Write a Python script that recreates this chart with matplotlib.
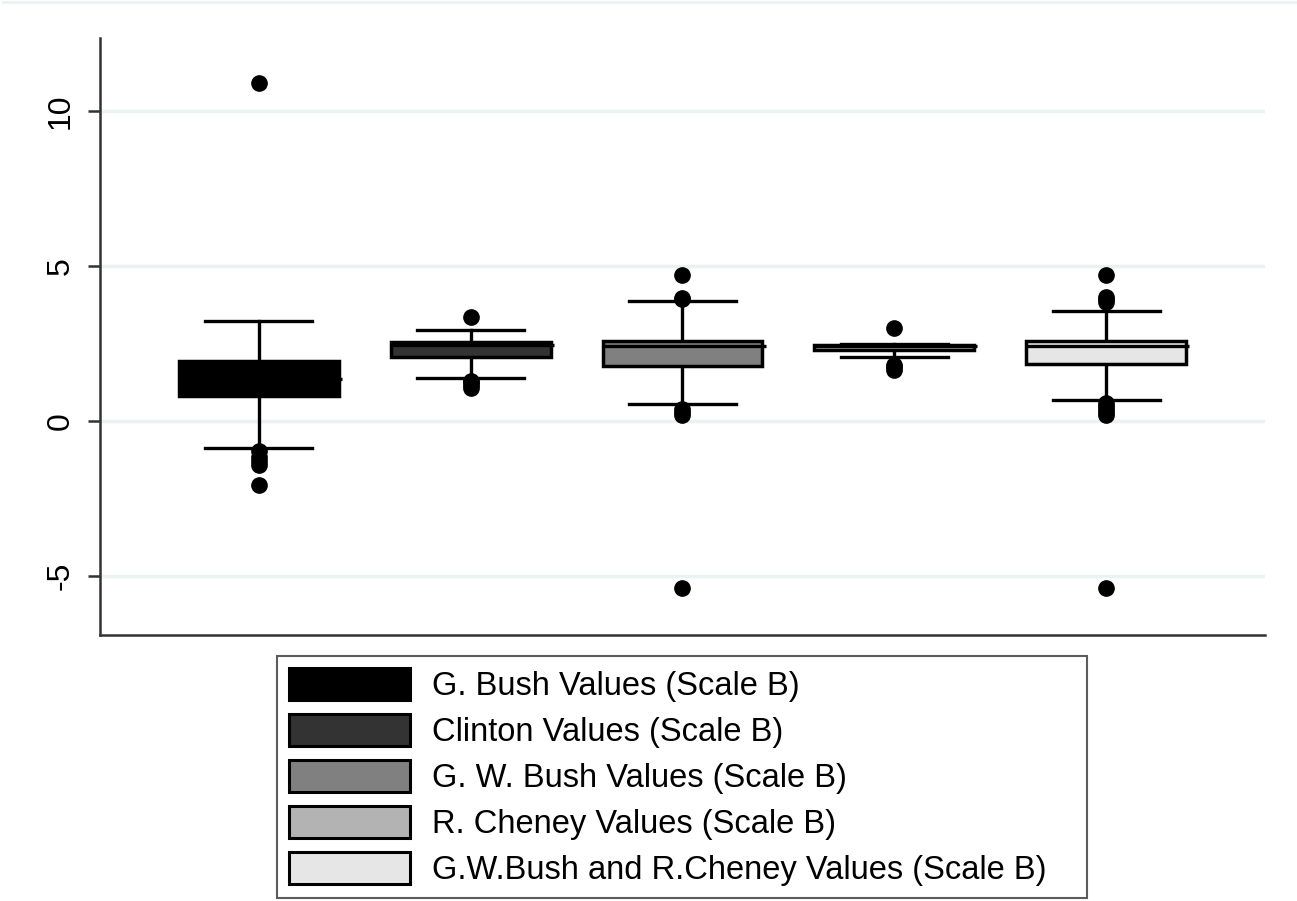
import matplotlib.pyplot as plt
from matplotlib.patches import Patch
from matplotlib.lines import Line2D

plt.rcParams['font.family'] = ['Liberation Sans', 'DejaVu Sans']

# box summaries per group (scale B)
groups = ['G. Bush Values (Scale B)', 'Clinton Values (Scale B)',
          'G. W. Bush Values (Scale B)', 'R. Cheney Values (Scale B)',
          'G.W.Bush and R.Cheney Values (Scale B)']
q1 = [0.80, 2.06, 1.78, 2.29, 1.84]
med = [1.36, 2.45, 2.42, 2.42, 2.42]
q3 = [1.94, 2.55, 2.58, 2.46, 2.58]
whislo = [-0.87, 1.39, 0.55, 2.06, 0.68]
whishi = [3.23, 2.94, 3.87, 2.50, 3.55]
outliers = [
    [10.9, -0.97, -1.15, -1.30, -1.42, -2.05],
    [3.35, 1.05, 1.15, 1.25, 1.30],
    [4.72, 3.92, 3.98, 0.20, 0.30, 0.40, -5.38],
    [3.00, 1.65, 1.75, 1.80],
    [4.72, 3.85, 3.95, 4.00, 0.20, 0.30, 0.40, 0.50, 0.58, -5.38],
]
fills = ['#000000', '#333333', '#808080', '#b3b3b3', '#e6e6e6']
yticks = [-5, 0, 5, 10]

stats = []
for i in range(len(groups)):
    stats.append({'med': med[i], 'q1': q1[i], 'q3': q3[i],
                  'whislo': whislo[i], 'whishi': whishi[i],
                  'fliers': outliers[i]})

fig = plt.figure(figsize=(12.97, 9.01), dpi=100)
ax = fig.add_axes([0.0771, 0.2952, 0.8982, 0.6626])

pos = list(range(1, len(groups) + 1))
bp = ax.bxp(stats, positions=pos, widths=0.755, capwidths=0.505,
            patch_artist=True, manage_ticks=False,
            boxprops=dict(edgecolor='black', linewidth=2.5),
            whiskerprops=dict(color='black', linewidth=2.4),
            capprops=dict(color='black', linewidth=2.4),
            medianprops=dict(color='black', linewidth=2.4),
            flierprops=dict(marker='o', markerfacecolor='black',
                            markeredgecolor='black', markersize=11))
for patch, c in zip(bp['boxes'], fills):
    patch.set_facecolor(c)
    patch.set_zorder(3)
for m in bp['medians']:
    x = m.get_xdata()
    m.set_xdata([x[0], x[1] + 0.015])
    m.set_zorder(4)

ax.set_xlim(0.25, 5.75)
ax.set_ylim(-6.9, 12.35)
ax.set_xticks([])
ax.set_yticks(yticks)
ax.set_yticklabels([str(t) for t in yticks], rotation=90, va='center',
                   fontsize=23)
ax.tick_params(axis='y', length=8.6, width=1.8, color='#333333', pad=9)
ax.grid(axis='y', color='#eaf2f3', linewidth=2.5, zorder=0)
ax.set_axisbelow(True)
for s in ['top', 'right']:
    ax.spines[s].set_visible(False)
for s in ['left', 'bottom']:
    ax.spines[s].set_color('#333333')
    ax.spines[s].set_linewidth(1.8)

fig.add_artist(Line2D([0.002, 1.0], [0.9975, 0.9975], color='#eaf2f3',
                      linewidth=2, transform=fig.transFigure))

handles = [Patch(facecolor=c, edgecolor='black', linewidth=2.2) for c in fills]
leg = fig.legend(handles, groups, loc='upper left',
                 bbox_to_anchor=(277 / 1297, 1 - 656 / 901, 810 / 1297, 0.0),
                 mode='expand', fontsize=23.5, frameon=True, fancybox=False,
                 handlelength=3.7, handleheight=1.15, handletextpad=0.68,
                 labelspacing=0.36, borderpad=0.36, borderaxespad=0)
leg.get_frame().set_edgecolor('#333333')
leg.get_frame().set_linewidth(1.5)

plt.savefig('out.png', dpi=100)
